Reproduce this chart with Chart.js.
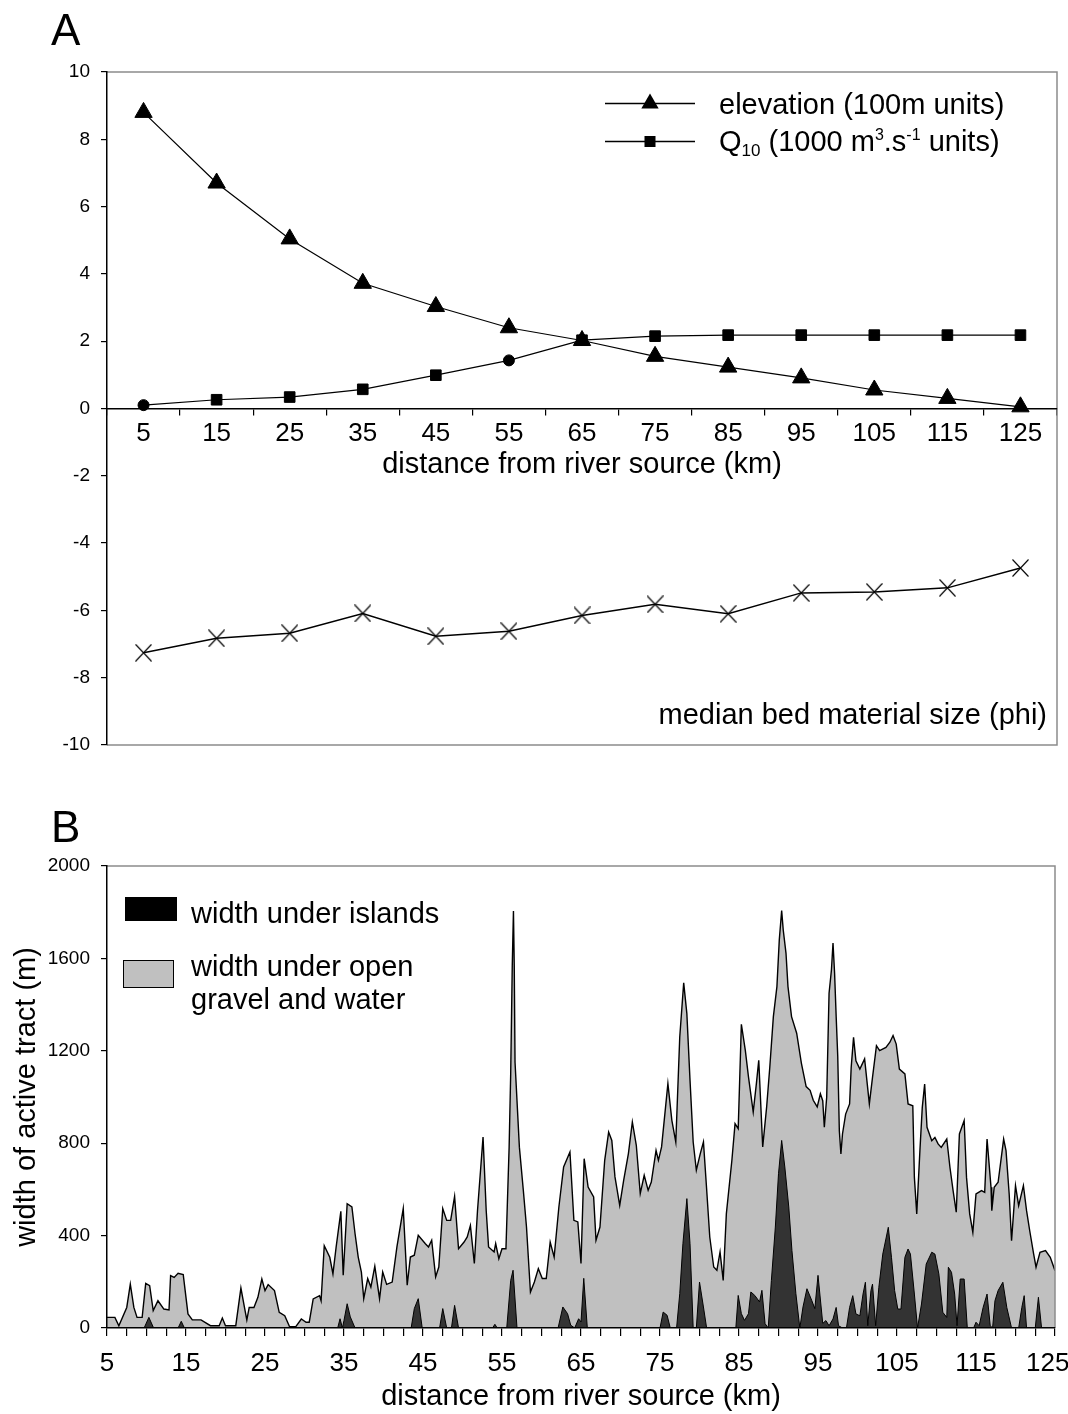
<!DOCTYPE html>
<html><head><meta charset="utf-8">
<script src="https://cdn.jsdelivr.net/npm/chart.js@4.4.1/dist/chart.umd.min.js"></script>
<style>
html,body{margin:0;padding:0;background:#fff;width:1068px;height:1414px;overflow:hidden;}
canvas{display:block;position:absolute;left:0;}
</style>
</head><body>
<canvas id="chartA" width="1068" height="780" style="top:0px"></canvas>
<canvas id="chartB" width="1068" height="634" style="top:780px"></canvas>
<script>
// ---------- Panel A data ----------
const distLabels = ['5','15','25','35','45','55','65','75','85','95','105','115','125'];
const elevation = [8.80, 6.70, 5.04, 3.72, 3.03, 2.40, 2.02, 1.55, 1.23, 0.91, 0.55, 0.30, 0.05];
const q10 = [0.10, 0.26, 0.34, 0.57, 0.99, 1.43, 2.03, 2.15, 2.18, 2.18, 2.18, 2.18, 2.18];
const bedSize = [-7.26, -6.83, -6.68, -6.09, -6.77, -6.62, -6.15, -5.82, -6.10, -5.48, -5.45, -5.33, -4.74];
const yTicksA = [-10, -8, -6, -4, -2, 0, 2, 4, 6, 8, 10];

// ---------- Panel B data: [distance km, width m] ----------
const totalWidthSeries = [
[5.0,46],[6.0,46],[6.5,10],[7.5,89],[7.95,190],[8.4,89],[8.8,46],[9.45,46],[9.9,193],[10.4,183],
[10.85,75],[11.45,118],[12.2,82],[12.85,78],[13.05,227],[13.5,219],[14.0,237],[14.65,231],[15.25,61],[15.8,35],
[16.9,35],[18.1,10],[19.2,10],[19.6,43],[20.0,10],[21.3,10],[21.95,173],[22.4,89],[22.7,35],[23.0,89],
[23.6,89],[24.1,133],[24.6,212],[25.0,162],[25.4,188],[26.2,162],[26.8,68],[27.5,53],[28.1,6],[28.9,6],
[29.6,39],[30.2,25],[30.6,25],[31.1,126],[31.9,140],[32.1,118],[32.5,356],[33.2,306],[33.6,234],[34.0,349],
[34.6,505],[34.9,228],[35.4,538],[36.0,524],[36.4,408],[36.8,307],[37.2,242],[37.5,127],[38.0,214],[38.4,177],
[38.9,267],[39.5,127],[39.9,242],[40.4,189],[41.1,199],[41.7,351],[42.5,517],[43.0,185],[43.4,307],[43.9,315],
[44.4,401],[45.3,365],[45.7,351],[46.1,380],[46.6,221],[47.0,264],[47.5,517],[48.0,466],[48.5,466],[49.0,570],
[49.5,343],[50.2,372],[50.6,394],[51.0,444],[51.5,279],[51.9,509],[52.6,827],[53.0,509],[53.3,351],[54.0,329],
[54.2,365],[54.6,300],[55.0,343],[55.5,343],[55.9,780],[56.1,1100],[56.3,1570],[56.45,1805],[56.55,1570],[56.65,1150],
[57.2,783],[57.7,596],[58.1,437],[58.6,156],[59.1,199],[59.6,257],[60.1,214],[60.6,214],[61.1,372],[61.6,307],
[62.2,524],[62.8,697],[63.6,762],[64.1,466],[64.6,459],[65.0,279],[65.4,733],[65.9,610],[66.6,567],[66.9,380],
[67.4,437],[68.0,726],[68.5,848],[68.9,812],[69.3,654],[69.9,531],[70.4,639],[71.0,755],[71.5,892],[72.0,791],
[72.5,582],[73.0,661],[73.5,596],[73.9,632],[74.5,769],[74.8,726],[75.2,784],[76.0,1058],[76.5,899],[77.0,805],
[77.5,1260],[78.0,1494],[78.4,1361],[78.8,1072],[79.2,805],[79.6,683],[80.1,755],[80.5,805],[80.9,603],[81.3,394],
[81.8,264],[82.2,250],[82.6,329],[83.0,206],[83.4,495],[84.1,726],[84.5,885],[84.9,863],[85.3,1315],[85.8,1202],
[86.2,1087],[86.8,935],[87.2,1058],[87.5,1159],[88.0,784],[88.5,957],[88.9,1130],[89.35,1348],[89.8,1478],[90.1,1680],
[90.4,1807],[90.6,1723],[90.95,1622],[91.2,1478],[91.65,1348],[92.3,1276],[92.9,1146],[93.5,1045],[94.0,1029],[94.4,986],
[94.9,957],[95.3,1014],[95.6,984],[95.8,869],[96.1,999],[96.4,1449],[96.7,1550],[96.9,1666],[97.1,1536],[97.3,1348],
[97.5,1175],[97.7,854],[97.9,753],[98.1,840],[98.5,926],[99.0,970],[99.2,1128],[99.5,1258],[99.8,1157],[100.3,1121],
[100.9,1165],[101.5,970],[101.9,1085],[102.4,1222],[102.8,1201],[103.6,1215],[104.1,1237],[104.5,1266],[104.9,1229],[105.3,1121],
[106.0,1100],[106.4,970],[107.0,962],[107.2,652],[107.5,494],[107.9,768],[108.2,955],[108.5,1056],[108.8,869],[109.4,811],
[109.8,825],[110.2,797],[110.6,782],[111.3,818],[111.7,696],[112.1,595],[112.5,501],[112.9,840],[113.5,898],[113.8,652],
[114.2,494],[114.6,414],[115.0,580],[115.7,595],[116.1,587],[116.4,818],[116.9,609],[117.0,508],[117.3,609],[117.8,631],
[118.5,818],[118.8,768],[119.2,580],[119.5,378],[120.0,616],[120.4,530],[121.0,616],[121.4,508],[121.8,421],[122.3,320],
[122.6,263],[123.1,328],[123.8,335],[124.4,306],[125.0,248]
];
const islandWidthSeries = [
[5.0,0],[9.7,0],[10.3,46],[10.9,0],[14.0,0],[14.4,29],[14.8,0],[34.2,0],[34.5,40],[34.8,0],
[35.0,33],[35.4,105],[35.8,48],[36.4,0],[43.5,0],[43.9,84],[44.4,127],[44.9,0],[47.1,0],[47.5,84],
[48.0,0],[48.6,0],[49.0,98],[49.5,0],[53.8,0],[54.1,16],[54.4,0],[55.6,0],[56.1,206],[56.4,250],
[56.9,0],[62.1,0],[62.7,91],[63.3,62],[63.7,12],[64.2,0],[64.7,40],[65.0,26],[65.35,215],[65.8,0],
[75.0,0],[75.4,69],[75.9,55],[76.3,0],[77.1,0],[77.5,149],[77.9,365],[78.4,560],[78.8,365],[79.2,0],
[79.6,0],[80.0,199],[80.5,91],[80.9,0],[84.6,0],[84.9,141],[85.3,62],[85.7,33],[86.2,62],[86.5,156],
[87.0,141],[87.6,113],[87.9,163],[88.3,19],[88.7,0],[89.1,206],[89.6,437],[90.0,668],[90.4,812],[90.8,697],
[91.3,524],[91.7,336],[92.2,149],[92.7,0],[93.1,91],[93.6,170],[94.2,120],[94.6,84],[95.0,228],[95.6,20],
[96.0,32],[96.4,10],[96.9,39],[97.3,89],[97.6,10],[98.1,0],[98.6,0],[99.0,89],[99.4,140],[99.8,61],
[100.3,53],[100.7,147],[101.0,198],[101.3,10],[101.7,162],[101.9,190],[102.3,10],[102.7,176],[103.2,320],[103.9,436],
[104.3,306],[104.7,162],[105.1,82],[105.5,82],[106.0,306],[106.4,342],[106.7,320],[107.2,147],[107.6,0],[108.1,104],
[108.7,277],[109.4,328],[109.8,320],[110.3,234],[110.8,68],[111.3,46],[111.5,263],[111.9,241],[112.3,147],[112.6,10],
[113.0,212],[113.5,212],[113.9,0],[114.7,0],[115.0,25],[115.4,10],[115.9,89],[116.4,147],[116.8,10],[117.1,0],
[117.4,118],[117.8,162],[118.4,198],[118.9,89],[119.5,0],[120.4,0],[120.8,89],[121.1,140],[121.4,0],[122.5,0],
[122.9,133],[123.3,0],[125.0,0]
];
const xTicksB = ['5','15','25','35','45','55','65','75','85','95','105','115','125'];
const yTicksB = [0, 400, 800, 1200, 1600, 2000];

// ---------- common styling ----------
const FONT = 'Liberation Sans, Arial, Helvetica, sans-serif';
Chart.defaults.font.family = FONT;
Chart.defaults.color = '#000';

const framePlugin = {
  id: 'frame',
  afterDatasetsDraw(chart, args, opts) {
    const {ctx, chartArea: ca} = chart;
    ctx.save();
    ctx.strokeStyle = '#8c8c8c';
    ctx.lineWidth = 1.5;
    ctx.beginPath();
    ctx.moveTo(ca.left, ca.top);
    ctx.lineTo(ca.right, ca.top);
    ctx.lineTo(ca.right, ca.bottom);
    if (opts.bottom) ctx.lineTo(ca.left, ca.bottom);
    ctx.stroke();
    ctx.restore();
  }
};

function drawRich(ctx, parts, x, y) {
  let cx = x;
  for (const p of parts) {
    ctx.font = p.size + 'px ' + FONT;
    ctx.fillText(p.t, cx, y + (p.dy || 0));
    cx += ctx.measureText(p.t).width + (p.gap || 0);
  }
}

const annotA = {
  id: 'annotA',
  afterDraw(chart) {
    const {ctx, chartArea: ca} = chart;
    ctx.save();
    ctx.fillStyle = '#000';
    ctx.strokeStyle = '#000';
    ctx.textBaseline = 'alphabetic';
    ctx.font = '44px ' + FONT;
    ctx.textAlign = 'left';
    ctx.fillText('A', 51, 45);
    const lx0 = ca.right - 452, lx1 = ca.right - 362, mx = ca.right - 407, tx = ca.right - 338;
    ctx.lineWidth = 1.3;
    // elevation row
    let ly = Math.round(ca.top + 31) + 0.5;
    ctx.beginPath(); ctx.moveTo(lx0, ly); ctx.lineTo(lx1, ly); ctx.stroke();
    const r = 10;
    ctx.beginPath();
    ctx.moveTo(mx, ly - r);
    ctx.lineTo(mx + r * 0.866, ly + r / 2);
    ctx.lineTo(mx - r * 0.866, ly + r / 2);
    ctx.closePath(); ctx.fill();
    ctx.font = '29px ' + FONT;
    ctx.fillText('elevation (100m units)', tx, ca.top + 42);
    // Q10 row
    ly = Math.round(ca.top + 69) + 0.5;
    ctx.beginPath(); ctx.moveTo(lx0, ly); ctx.lineTo(lx1, ly); ctx.stroke();
    ctx.fillRect(mx - 5.5, ly - 5.5, 11, 11);
    drawRich(ctx, [
      {t: 'Q', size: 29},
      {t: '10', size: 17, dy: 5},
      {t: ' (1000 m', size: 29},
      {t: '3', size: 16, dy: -11},
      {t: '.s', size: 29},
      {t: '-1', size: 16, dy: -11},
      {t: ' units)', size: 29}
    ], tx, ca.top + 79);
    ctx.font = '29px ' + FONT;
    ctx.textAlign = 'right';
    ctx.fillText('median bed material size (phi)', ca.right - 10, ca.bottom - 21);
    ctx.restore();
  }
};

const annotB = {
  id: 'annotB',
  afterDraw(chart) {
    const {ctx, chartArea: ca} = chart;
    ctx.save();
    ctx.fillStyle = '#000';
    ctx.textBaseline = 'alphabetic';
    ctx.textAlign = 'left';
    ctx.font = '44px ' + FONT;
    ctx.fillText('B', 51, 62);
    ctx.fillStyle = '#000';
    ctx.fillRect(ca.left + 18, ca.top + 31, 52, 24);
    ctx.fillStyle = '#c0c0c0';
    ctx.fillRect(ca.left + 16, ca.top + 94, 50, 27);
    ctx.strokeStyle = '#000';
    ctx.lineWidth = 1;
    ctx.strokeRect(ca.left + 16.5, ca.top + 94.5, 50, 27);
    ctx.fillStyle = '#000';
    ctx.font = '29px ' + FONT;
    ctx.fillText('width under islands', ca.left + 84, ca.top + 57);
    ctx.fillText('width under open', ca.left + 84, ca.top + 110);
    ctx.fillText('gravel and water', ca.left + 84, ca.top + 143);
    ctx.restore();
  }
};

// ---------- X marker for bed-material series ----------
function makeXMarker(w, h) {
  const c = document.createElement('canvas');
  c.width = w; c.height = h;
  const g = c.getContext('2d');
  g.strokeStyle = '#000';
  g.lineWidth = 1.1;
  g.beginPath();
  g.moveTo(0.5, 0.5); g.lineTo(w - 0.5, h - 0.5);
  g.moveTo(w - 0.5, 0.5); g.lineTo(0.5, h - 0.5);
  g.stroke();
  return c;
}
const xMarker = makeXMarker(17, 18);

const q10Styles = q10.map((v, i) => (i === 0 || i === 5) ? 'circle' : 'rect');
const q10Radius = q10.map((v, i) => (i === 0 || i === 5) ? 5.5 : 7.5);

// ---------- Chart A ----------
new Chart(document.getElementById('chartA'), {
  type: 'line',
  data: {
    labels: distLabels,
    datasets: [
      {
        label: 'elevation (100m units)',
        data: elevation,
        borderColor: '#000', backgroundColor: '#000', borderWidth: 1.2,
        pointStyle: 'triangle', pointRadius: 10, pointBackgroundColor: '#000', pointBorderColor: '#000', pointBorderWidth: 1,
        tension: 0, fill: false
      },
      {
        label: 'Q10',
        data: q10,
        borderColor: '#000', backgroundColor: '#000', borderWidth: 1.2,
        pointStyle: q10Styles, pointRadius: q10Radius, pointBackgroundColor: '#000', pointBorderColor: '#000', pointBorderWidth: 1,
        tension: 0, fill: false
      },
      {
        label: 'median bed material size (phi)',
        data: bedSize,
        borderColor: '#000', backgroundColor: '#000', borderWidth: 1.5,
        pointStyle: xMarker, pointRadius: 9,
        tension: 0, fill: false
      }
    ]
  },
  options: {
    responsive: false, animation: false, devicePixelRatio: 1,
    layout: {padding: {left: 0, top: 72, right: 8, bottom: 35}},
    plugins: {legend: {display: false}, tooltip: {enabled: false}, frame: {bottom: true}},
    scales: {
      x: {
        type: 'category', position: {y: 0}, offset: true,
        grid: {offset: true, drawOnChartArea: false, drawTicks: true, tickLength: 6, color: '#000', lineWidth: 1.2},
        border: {display: true, color: '#000', width: 1.5, z: 1},
        ticks: {color: '#000', font: {size: 26, family: FONT}, padding: 4, maxRotation: 0, autoSkip: false},
        title: {display: true, text: 'distance from river source (km)', color: '#000', font: {size: 29, family: FONT}, padding: {top: 0, bottom: 0}},
        afterFit: s => { s.height = 74; s.paddingLeft = 0; s.paddingRight = 0; }
      },
      y: {
        type: 'linear', min: -10, max: 10,
        afterBuildTicks: s => { s.ticks = yTicksA.map(v => ({value: v})); },
        grid: {drawOnChartArea: false, drawTicks: true, tickLength: 6, color: '#000', lineWidth: 1.2},
        border: {display: true, color: '#000', width: 1.5, z: 1},
        ticks: {color: '#000', font: {size: 19, family: FONT}, padding: 11, callback: v => String(v)},
        afterFit: s => { s.width = 107; }
      }
    }
  },
  plugins: [framePlugin, annotA]
});

// ---------- Chart B ----------
new Chart(document.getElementById('chartB'), {
  type: 'line',
  data: {
    datasets: [
      {
        label: 'width under islands',
        data: islandWidthSeries.map(p => ({x: p[0], y: p[1]})),
        borderColor: '#000', borderWidth: 1, backgroundColor: '#333333',
        fill: 'origin', pointRadius: 0, tension: 0
      },
      {
        label: 'width under open gravel and water',
        data: totalWidthSeries.map(p => ({x: p[0], y: p[1]})),
        borderColor: '#000', borderWidth: 1.4, backgroundColor: '#c0c0c0',
        fill: 'origin', pointRadius: 0, tension: 0
      }
    ]
  },
  options: {
    responsive: false, animation: false, devicePixelRatio: 1,
    layout: {padding: {left: 0, top: 86, right: 13, bottom: 0}},
    plugins: {legend: {display: false}, tooltip: {enabled: false}, frame: {bottom: false}},
    scales: {
      x: {
        type: 'linear', min: 5, max: 125, position: 'bottom',
        grid: {drawOnChartArea: false, drawTicks: true, tickLength: 8, color: '#000', lineWidth: 1.2},
        border: {display: true, color: '#000', width: 1.5, z: 1},
        ticks: {
          stepSize: 2.5, autoSkip: false, maxRotation: 0, padding: 12,
          color: '#000', font: {size: 26, family: FONT},
          callback: v => {
            const s = String(v);
            if (!xTicksB.includes(s)) return '';
            return s === '125' ? s + '\u00a0\u00a0' : s;
          }
        },
        title: {display: true, text: 'distance from river source (km)', color: '#000', font: {size: 29, family: FONT}, padding: {top: 0, bottom: 0}},
        afterFit: s => { s.height = 86; s.paddingLeft = 0; s.paddingRight = 0; }
      },
      y: {
        type: 'linear', min: 0, max: 2000,
        afterBuildTicks: s => { s.ticks = yTicksB.map(v => ({value: v})); },
        grid: {drawOnChartArea: false, drawTicks: true, tickLength: 6, color: '#000', lineWidth: 1.2},
        border: {display: true, color: '#000', width: 1.5, z: 1},
        ticks: {color: '#000', font: {size: 19, family: FONT}, padding: 11, callback: v => String(v)},
        title: {display: true, text: 'width of active tract (m)', color: '#000', font: {size: 29, family: FONT}, padding: {top: 10, bottom: 0}},
        afterFit: s => { s.width = 107; s.paddingTop = 0; s.paddingBottom = 0; }
      }
    }
  },
  plugins: [framePlugin, annotB]
});
</script>
</body></html>
